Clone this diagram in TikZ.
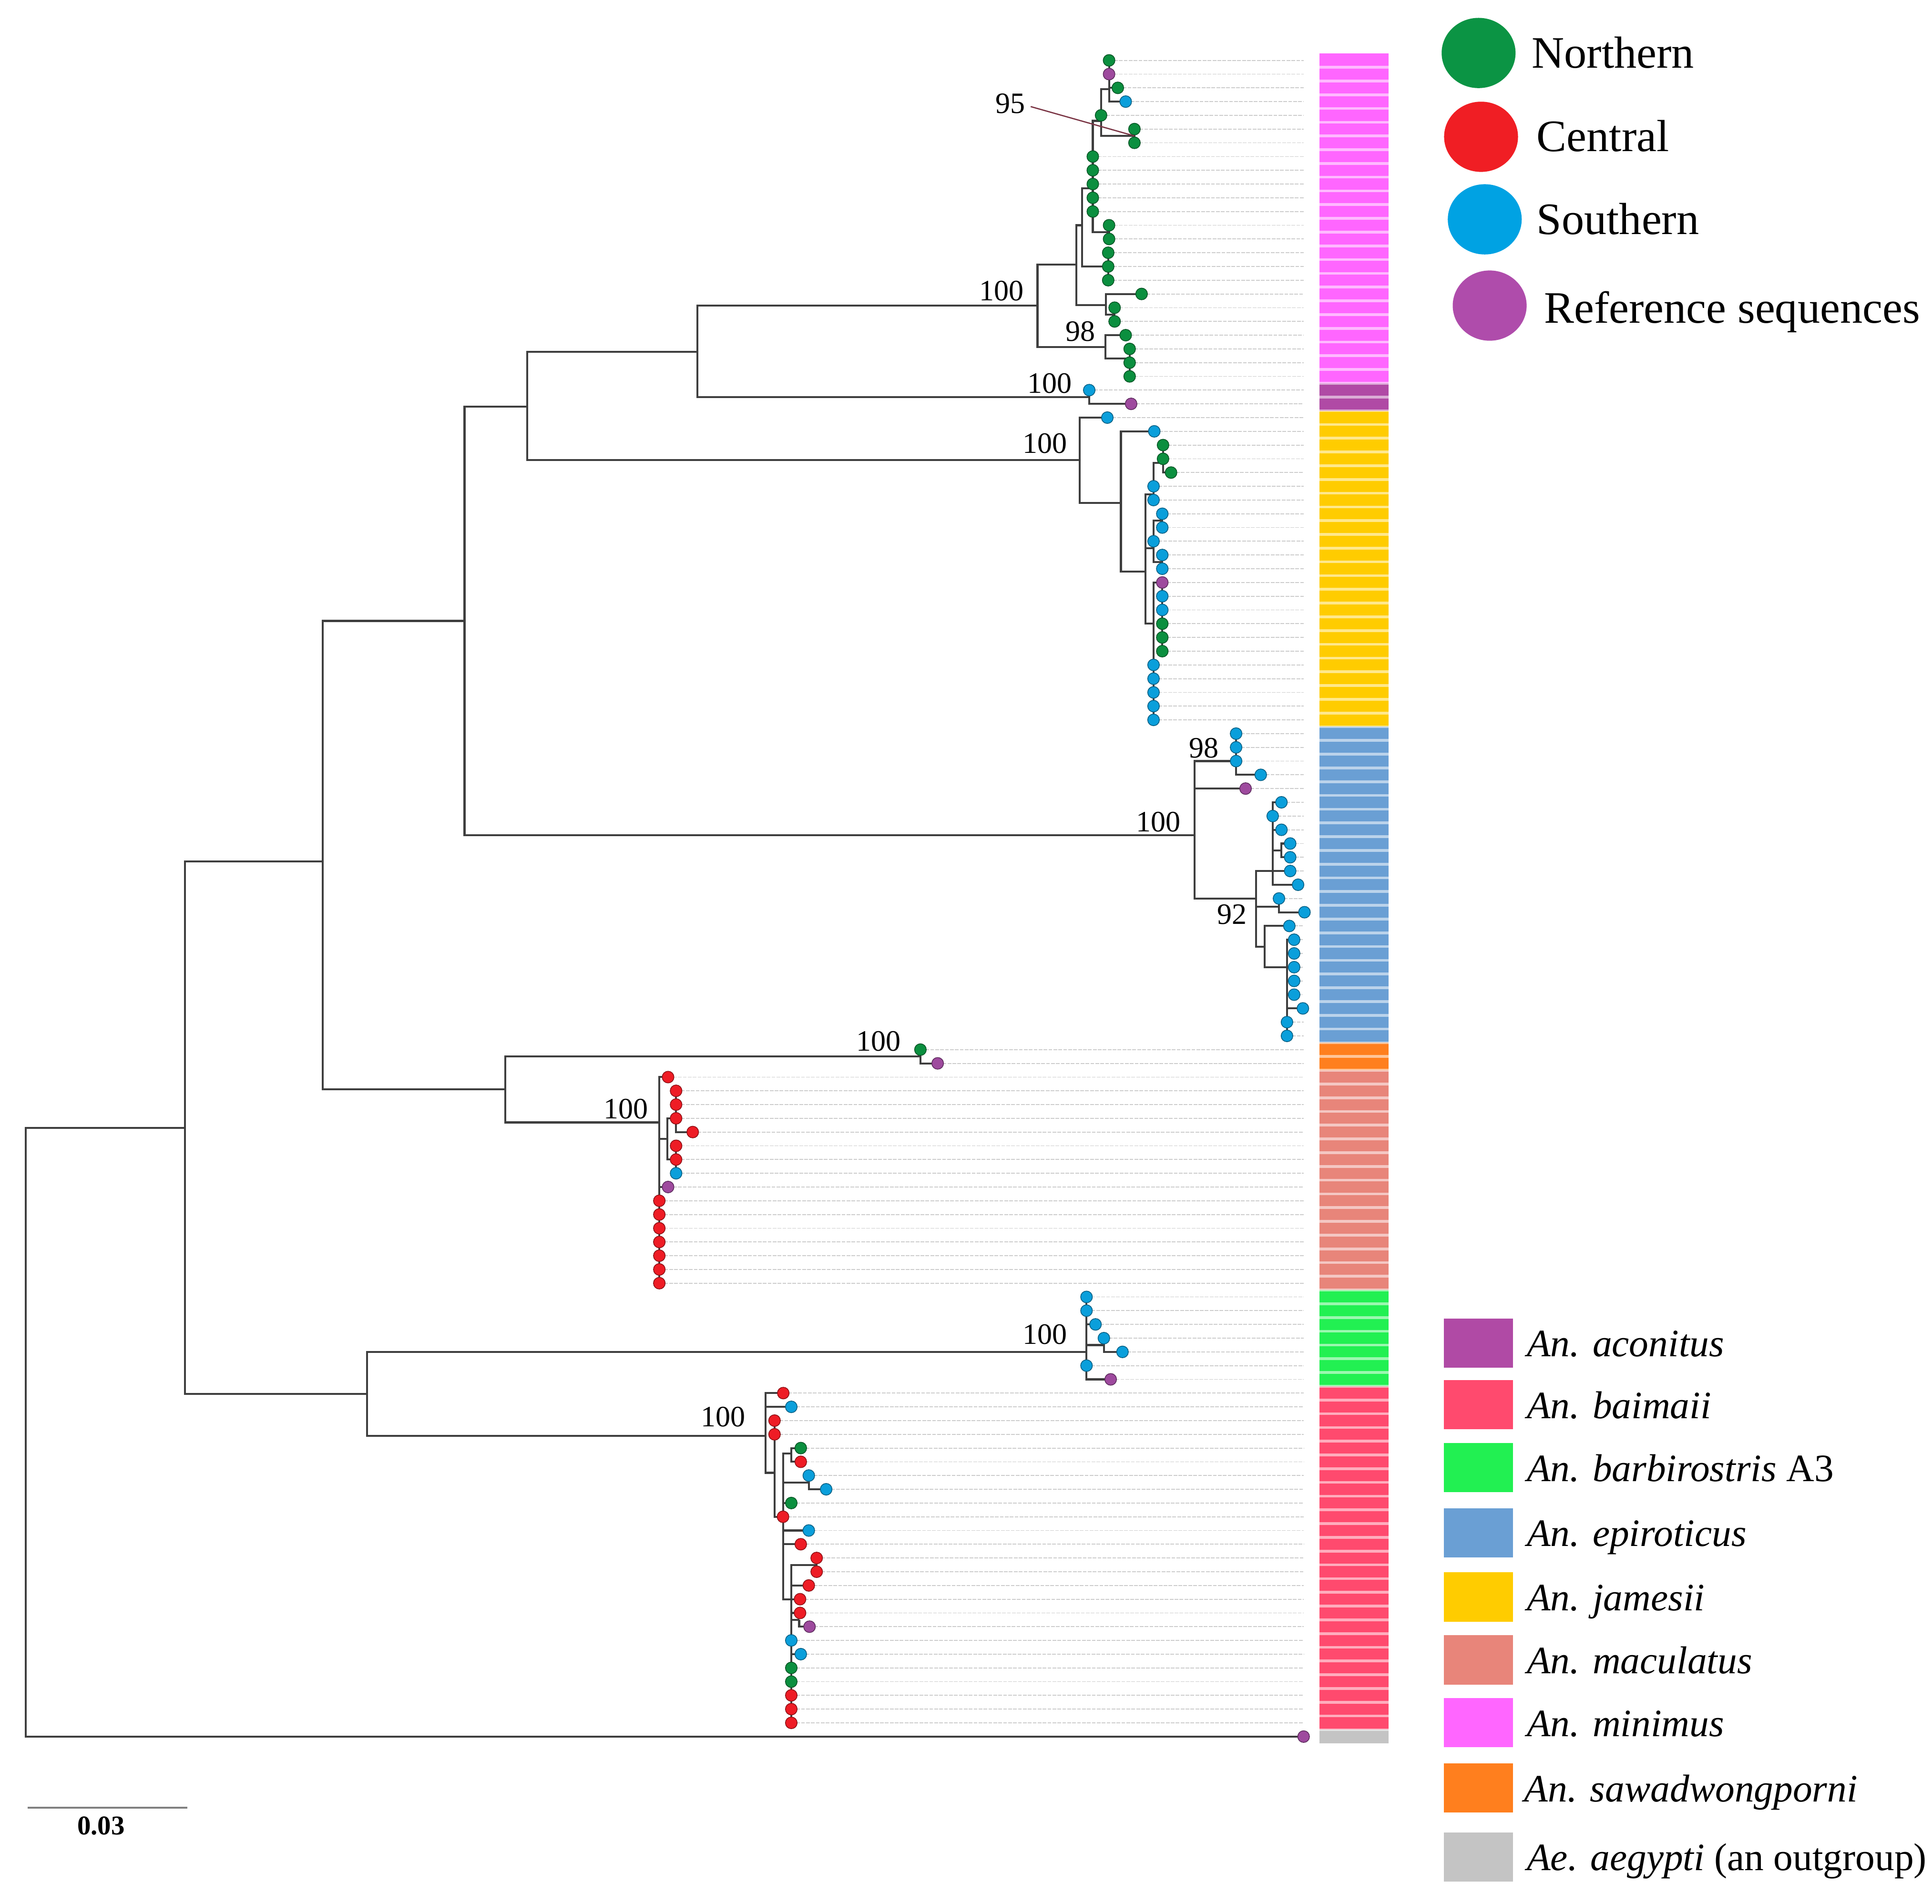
\documentclass[tikz,border=0pt]{standalone}
\usepackage{fontspec}
\setmainfont{Liberation Serif}
\usetikzlibrary{calc,shapes.geometric}
\definecolor{cN}{HTML}{0B8F3F}
\definecolor{cC}{HTML}{EE1C25}
\definecolor{cS}{HTML}{0A9FDB}
\definecolor{cP}{HTML}{9E4A9E}
\definecolor{lgN}{HTML}{0B9444}
\definecolor{lgC}{HTML}{F01E24}
\definecolor{lgS}{HTML}{00A2E3}
\definecolor{lgP}{HTML}{AF4CAB}
\definecolor{bmin}{HTML}{FF66FF}
\definecolor{baco}{HTML}{B04AA5}
\definecolor{bjam}{HTML}{FFCC00}
\definecolor{bepi}{HTML}{6A9FD4}
\definecolor{bsaw}{HTML}{FF7F1E}
\definecolor{bmac}{HTML}{E8857A}
\definecolor{bbar}{HTML}{22F052}
\definecolor{bbai}{HTML}{FF4A6E}
\definecolor{baeg}{HTML}{C4C4C4}
\definecolor{treeline}{HTML}{3E3E3E}
\definecolor{ptr}{HTML}{7A3444}
\pgfmathdeclarefunction{ry}{1}{\pgfmathparse{49+11.15*#1}}
\tikzset{
  edge/.style={draw=treeline,line width=1.6pt},
  guide/.style={draw=black!20,line width=0.7pt,dash pattern=on 3pt off 1pt},
  dot/.style={circle,inner sep=0pt,minimum size=9.5pt,line width=0.6pt},
  boot/.style={font=\fontsize{24}{24}\selectfont,inner sep=0pt},
  reg/.style={font=\fontsize{36.5}{36}\selectfont,anchor=base west,inner sep=0pt},
  spc/.style={font=\fontsize{31.5}{32}\selectfont,anchor=base west,inner sep=0pt},
  lgbox/.style={minimum width=56pt,minimum height=40pt,inner sep=0pt},
  lgdot/.style={ellipse,minimum width=60pt,minimum height=57pt,inner sep=0pt}
}
\newcommand\kids[2]{\foreach \c in {#2} {\draw[edge] (#1) |- (\c);}}
\newcommand\dotset[2]{\foreach \i in {#1} {\node[dot,fill=#2,draw=#2!60!black] (d\i) at (l\i) {};}}
\newcommand\leafs[2]{\foreach \r in {#2} {\coordinate (l\r) at (#1,{ry(\r)});}}
\begin{document}
\begin{tikzpicture}[x=1pt,y=-1pt]
\path[use as bounding box,fill=white] (0,0) rectangle (1568,1544.8);
% ---------- internal nodes ----------
\coordinate (R) at (21,{ry(99.85)});
\coordinate (A) at (150,{ry(77.7)});
\coordinate (B) at (262,{ry(58.3)});
\coordinate (C) at (298,{ry(97.05)});
\coordinate (D) at (377,{ry(40.8)});
\coordinate (E) at (410,{ry(74.9)});
\coordinate (F) at (428,{ry(25.2)});
\coordinate (G) at (969.4,{ry(56.4)});
\coordinate (H) at (566,{ry(21.2)});
\coordinate (J) at (876.2,{ry(29.1)});
\coordinate (M) at (842,{ry(17.86)});
\coordinate (Ac) at (884,{ry(24.5)});
\coordinate (S) at (747,{ry(72.5)});
\coordinate (K) at (535.1,{ry(77.3)});
\coordinate (L) at (881.8,{ry(94)});
\coordinate (N) at (621.3,{ry(100.1)});
\coordinate (Ma) at (873.6,{ry(14.86)});
\coordinate (Mb) at (897.2,{ry(20.86)});
\coordinate (Mc) at (878.1,{ry(12.0)});
\coordinate (Me) at (897.5,{ry(17.8)});
\coordinate (Mf) at (886.9,{ry(9.3)});
\coordinate (Mg) at (899.4,{ry(15)});
\coordinate (Mh) at (893.6,{ry(4.4)});
\coordinate (Mi) at (900.1,{ry(12.5)});
\coordinate (Mj) at (900.1,{ry(2.08)});
\coordinate (M95) at (920.7,{ry(5.5)});
\coordinate (Mk) at (904.6,{ry(18.5)});
\coordinate (Ml) at (916.8,{ry(21.7)});
\coordinate (J2) at (909.7,{ry(32.2)});
\coordinate (J3) at (929.7,{ry(37.2)});
\coordinate (J4) at (936.2,{ry(31.6)});
\coordinate (Jg) at (943.9,{ry(29.3)});
\coordinate (J5) at (936.2,{ry(35.5)});
\coordinate (Jh) at (943.3,{ry(33.5)});
\coordinate (Ji) at (943.3,{ry(36.5)});
\coordinate (J6) at (936.2,{ry(41)});
\coordinate (Jj) at (943.3,{ry(38)});
\coordinate (G1) at (1003.2,{ry(51)});
\coordinate (G2) at (1019.3,{ry(61)});
\coordinate (G3) at (1032.9,{ry(59)});
\coordinate (Gn) at (1040,{ry(57.5)});
\coordinate (Gm) at (1038,{ry(61.6)});
\coordinate (G4) at (1026.4,{ry(64.5)});
\coordinate (G5) at (1044.5,{ry(66)});
\coordinate (K2) at (541.6,{ry(78.5)});
\coordinate (K3) at (548.7,{ry(77)});
\coordinate (K4) at (548.7,{ry(80)});
\coordinate (Lb) at (895.9,{ry(93.5)});
\coordinate (N2) at (628.6,{ry(102.8)});
\coordinate (N3) at (635.5,{ry(106)});
\coordinate (Na) at (642.2,{ry(101.4)});
\coordinate (Nb) at (656.4,{ry(103.5)});
\coordinate (N4) at (642.2,{ry(112)});
\coordinate (Nc) at (662.8,{ry(109.5)});
\coordinate (Nd) at (648.6,{ry(113.5)});
% ---------- leaves ----------
\leafs{900.1}{0,1} \leafs{907.2}{2} \leafs{913.6}{3} \leafs{893.6}{4}
\leafs{920.7}{5,6} \leafs{886.9}{7,...,11} \leafs{900.1}{12,13}
\leafs{899.4}{14,15,16} \leafs{926.5}{17} \leafs{904.6}{18,19}
\leafs{913.6}{20} \leafs{916.8}{21,22,23}
\leafs{884}{24} \leafs{918}{25}
\leafs{898.7}{26} \leafs{936.8}{27} \leafs{943.9}{28,29} \leafs{950.4}{30}
\leafs{936.2}{31,32} \leafs{943.3}{33,34} \leafs{936.2}{35} \leafs{943.3}{36,37}
\leafs{943.3}{38,...,43} \leafs{936.2}{44,...,48}
\leafs{1003.2}{49,50,51} \leafs{1023.2}{52} \leafs{1010.9}{53}
\leafs{1040}{54} \leafs{1032.9}{55} \leafs{1040}{56} \leafs{1047.1}{57,58,59}
\leafs{1053.5}{60} \leafs{1038}{61} \leafs{1058.7}{62} \leafs{1046.4}{63}
\leafs{1050.3}{64,...,68} \leafs{1057.4}{69} \leafs{1044.5}{70,71}
\leafs{747}{72} \leafs{761}{73}
\leafs{542.2}{74} \leafs{548.7}{75,76,77} \leafs{562.2}{78} \leafs{548.7}{79,80,81}
\leafs{542.2}{82} \leafs{535.1}{83,...,89}
\leafs{881.8}{90,91} \leafs{889.1}{92} \leafs{895.9}{93} \leafs{911}{94}
\leafs{881.8}{95} \leafs{901.4}{96}
\leafs{635.7}{97} \leafs{642.2}{98} \leafs{628.6}{99,100} \leafs{649.9}{101,102}
\leafs{656.4}{103} \leafs{670.5}{104} \leafs{642.2}{105} \leafs{635.5}{106}
\leafs{656.4}{107} \leafs{649.9}{108} \leafs{662.8}{109,110} \leafs{656.4}{111}
\leafs{649.3}{112,113} \leafs{657}{114} \leafs{642.2}{115} \leafs{649.9}{116}
\leafs{642.2}{117,...,121}
\leafs{1058}{122}
\coordinate (gx) at (1058,0);
% ---------- guide lines ----------
\foreach \i in {0,...,121} {\draw[guide] (l\i) -- (l\i -| gx);}
% ---------- edges ----------
\kids{R}{A,l122}
\kids{A}{B,C}
\kids{B}{D,E}
\kids{C}{L,N}
\kids{D}{F,G}
\kids{E}{S,K}
\kids{F}{H,J}
\kids{H}{M,Ac}
\kids{M}{Ma,Mb}
\kids{Ma}{Mc,Me}
\kids{Mc}{Mf,Mg}
\kids{Mf}{Mh,l7,l8,l9,l10,l11,Mi}
\kids{Mh}{Mj,l4,M95}
\kids{Mj}{l0,l1,l2,l3}
\kids{M95}{l5,l6}
\kids{Mi}{l12,l13}
\kids{Mg}{l14,l15,l16}
\kids{Me}{l17,Mk}
\kids{Mk}{l18,l19}
\kids{Mb}{l20,Ml}
\kids{Ml}{l21,l22,l23}
\kids{Ac}{l24,l25}
\kids{J}{l26,J2}
\kids{J2}{l27,J3}
\kids{J3}{J4,J5,J6}
\kids{J4}{Jg,l31,l32}
\kids{Jg}{l28,l29,l30}
\kids{J5}{Jh,l35,Ji}
\kids{Jh}{l33,l34}
\kids{Ji}{l36,l37}
\kids{J6}{Jj,l44,l45,l46,l47,l48}
\kids{Jj}{l38,l39,l40,l41,l42,l43}
\kids{G}{G1,l53,G2}
\kids{G1}{l49,l50,l51,l52}
\kids{G2}{G3,Gm,G4}
\kids{G3}{l54,l55,l56,Gn,l59,l60}
\kids{Gn}{l57,l58}
\kids{Gm}{l61,l62}
\kids{G4}{l63,G5}
\kids{G5}{l64,l65,l66,l67,l68,l69,l70,l71}
\kids{S}{l72,l73}
\kids{K}{l74,K2,l82,l83,l84,l85,l86,l87,l88,l89}
\kids{K2}{K3,K4}
\kids{K3}{l75,l76,l77,l78}
\kids{K4}{l79,l80,l81}
\kids{L}{l90,l91,l92,Lb,l95,l96}
\kids{Lb}{l93,l94}
\kids{N}{l97,l98,N2}
\kids{N2}{l99,l100,N3}
\kids{N3}{Na,Nb,l105,l106,l107,l108,N4}
\kids{Na}{l101,l102}
\kids{Nb}{l103,l104}
\kids{N4}{Nc,l111,l112,l113,Nd,l115,l116,l117,l118,l119,l120,l121}
\kids{Nc}{l109,l110}
\kids{Nd}{l114}
% ---------- leaf dots ----------
\dotset{0,2,4,5,...,23}{cN}
\dotset{1}{cP}
\dotset{3,24}{cS}
\dotset{25,38,53,73,82,96,114,122}{cP}
\dotset{26,27,31,32,33,34,35,36,37,39,40,44,45,46,47,48}{cS}
\dotset{28,29,30,41,42,43,72}{cN}
\dotset{49,50,51,52,54,55,...,71}{cS}
\dotset{74,75,...,80,83,84,...,89}{cC}
\dotset{81,90,91,...,95}{cS}
\dotset{97,99,100,102,106,108,109,110,111,112,113,119,120,121}{cC}
\dotset{98,103,104,107,115,116}{cS}
\dotset{101,105,117,118}{cN}
% ---------- bootstrap values ----------
\node[boot] (b95) at (820,84) {95};
\draw[ptr,line width=1pt] (836.5,86.5) -- (M95);
\node[boot] (bmin) at (813,236) {100};
\node[boot] (bmin98) at (877,269) {98};
\node[boot] (baco) at (852,311) {100};
\node[boot] (bjam) at (848,360) {100};
\node[boot] (bepi98) at (977,607) {98};
\node[boot] (bepi) at (940,667) {100};
\node[boot] (bepi92) at (1000,742) {92};
\node[boot] (bsaw) at (713,845) {100};
\node[boot] (bmac) at (508,900) {100};
\node[boot] (bbar) at (848,1083) {100};
\node[boot] (bbai) at (587,1150) {100};
% ---------- colour bar ----------
\foreach \a/\b/\col in {0/23/bmin,24/25/baco,26/48/bjam,49/71/bepi,72/73/bsaw,74/89/bmac,90/96/bbar,97/121/bbai,122/122/baeg}
  {\fill[\col] (1071,{ry(\a)-5.575}) rectangle (1127,{ry(\b)+5.575});}
\foreach \r in {1,...,122}
  {\draw[white,opacity=0.55,line width=2.2pt] (1071,{ry(\r)-5.575}) -- (1127,{ry(\r)-5.575});}
% ---------- region legend ----------
\node[lgdot,fill=lgN] (kN) at (1200,43) {};
\node[lgdot,fill=lgC] (kC) at (1202,111) {};
\node[lgdot,fill=lgS] (kS) at (1205,178) {};
\node[lgdot,fill=lgP] (kP) at (1209,248) {};
\node[reg] (tN) at (1243,55) {Northern};
\node[reg] (tC) at (1247,123) {Central};
\node[reg] (tS) at (1247,190) {Southern};
\node[reg] (tP) at (1253,262) {Reference sequences};
% ---------- species legend ----------
\foreach \nm/\yy/\col in {q1/1090/baco,q2/1140/bbai,q3/1191/bbar,q4/1244/bepi,q5/1296/bjam,q6/1347/bmac,q7/1398/bmin,q8/1451/bsaw,q9/1507/baeg}
  {\node[lgbox,fill=\col] (\nm) at (1200,\yy) {};}
\node[spc] (s1) at (1239,1101) {\textit{An. aconitus}};
\node[spc] (s2) at (1239,1151) {\textit{An. baimaii}};
\node[spc] (s3) at (1239,1202) {\textit{An. barbirostris} A3};
\node[spc] (s4) at (1239,1255) {\textit{An. epiroticus}};
\node[spc] (s5) at (1239,1307) {\textit{An. jamesii}};
\node[spc] (s6) at (1239,1358) {\textit{An. maculatus}};
\node[spc] (s7) at (1239,1409) {\textit{An. minimus}};
\node[spc] (s8) at (1237,1462) {\textit{An. sawadwongporni}};
\node[spc] (s9) at (1239,1518) {\textit{Ae. aegypti} (an outgroup)};
% ---------- scale bar ----------
\coordinate (sb1) at (22.6,1467);
\coordinate (sb2) at (152,1467);
\draw[draw=black!50,line width=1.8pt] (sb1) -- (sb2);
\node[font=\fontsize{22}{22}\selectfont\bfseries,anchor=base,inner sep=0pt] (sbl) at (82,1489) {0.03};
\end{tikzpicture}
\end{document}
